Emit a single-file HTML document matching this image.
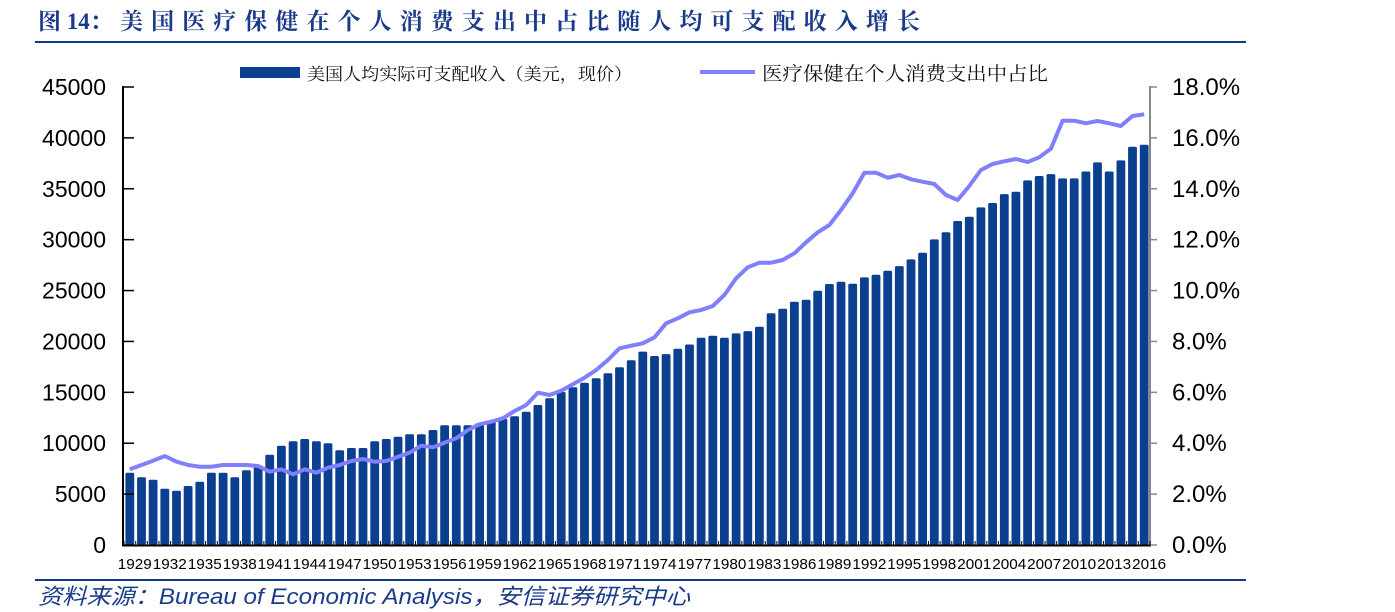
<!DOCTYPE html>
<html><head><meta charset="utf-8">
<style>
html,body{margin:0;padding:0;background:#fff;}
body{width:1395px;height:612px;overflow:hidden;position:relative;font-family:"Liberation Sans","Noto Sans CJK SC",sans-serif;}
svg{position:absolute;left:0;top:0;}
</style></head>
<body>
<svg id="s" width="1395" height="612" xmlns="http://www.w3.org/2000/svg">
<text x="38" y="29" font-family="'Liberation Serif','Noto Serif CJK SC',serif" font-size="23" font-weight="bold" fill="#1a3a8a"><tspan>图 14：</tspan><tspan x="120" textLength="800" lengthAdjust="spacing">美国医疗保健在个人消费支出中占比随人均可支配收入增长</tspan></text>
<line x1="35" y1="42" x2="1246" y2="42" stroke="#0d3a8c" stroke-width="2"/>
<line x1="35" y1="580" x2="1246" y2="580" stroke="#0d3a8c" stroke-width="2"/>
<text x="38" y="604" font-family="'Liberation Sans','Noto Sans CJK SC',sans-serif" font-size="22" font-style="italic" fill="#1a3a8a" textLength="652" lengthAdjust="spacingAndGlyphs">资料来源：Bureau of Economic Analysis，安信证券研究中心</text>
<rect x="240" y="67" width="60" height="11" fill="#0b3f8f"/>
<text x="307" y="80" font-size="17" fill="#111" font-family="'Liberation Serif','Noto Serif CJK SC',serif" textLength="325" lengthAdjust="spacingAndGlyphs">美国人均实际可支配收入（美元，现价）</text>
<line x1="700" y1="72" x2="755" y2="72" stroke="#7f7fff" stroke-width="4"/>
<text x="762" y="80" font-size="19" fill="#111" font-family="'Liberation Serif','Noto Serif CJK SC',serif" textLength="286" lengthAdjust="spacingAndGlyphs">医疗保健在个人消费支出中占比</text>
<g id="g"></g>
</svg>
<script>
var g=document.getElementById('g'),h='';
var z1=[428,442,449,476,482,468,455,428,428,442,421,410,374,347,334,327,334,340,361,354,354,334,327,320,313,313,300,286,286,286,280,273,266,259,245,225,205,186,172,158,145,130,112,91];
var vals=[19000,18570,18760,19290,19700,20360,20560,20360,20790,21020,21450,22760,23210,23900,24100,24980,25640,25870,25670,26290,26550,26950,27400,28060,28720,30030,30720,31830,32250,33170,33600,34480,34700,35820,36250,36440,36020,36020,36700,37590,36700,37790,39120,39320];
var by=z1.map(function(z){return 330+z/3;});
vals.forEach(function(v){by.push(545-v*0.010178);});
var step=1026/88;
function cx(i){return 124+step*(i+0.5);}
for(var i=0;i<88;i++){var x=cx(i)-4.4,y=by[i];h+='<rect x="'+x.toFixed(1)+'" y="'+y.toFixed(1)+'" width="8.8" height="'+(545-y).toFixed(1)+'" rx="1.5" fill="#0b3f8f"/>';}
var l1=[418,405,392,378,395,405,410,410,405,405,405,408,425,418,433,418,428,413,405,393,387,395,393,380,368,347,352,338,325,300,283,275,265,243,225,188,195,182,163,143,120,90];
var ly=l1.map(function(z){return 330+z/3;});
var l2=[805,797,790,772,730,715,697,690,678,645,595,562,548,548,540,520,487,457,435,390,340,278,278,293,285,298,305,312,345,360,318,270,252,244,237,246,232,206,122,122,130,123,130,138,108,103];
l2.forEach(function(z){ly.push(80+z/3);});
var pts=[];for(var i=0;i<88;i++)pts.push(cx(i).toFixed(1)+','+ly[i].toFixed(1));
h+='<polyline points="'+pts.join(' ')+'" fill="none" stroke="#7f7fff" stroke-width="4" stroke-linejoin="round"/>';
h+='<line x1="123" y1="86" x2="123" y2="546" stroke="#000" stroke-width="2"/>';
h+='<line x1="1150" y1="86" x2="1150" y2="546" stroke="#888" stroke-width="2"/>';
h+='<line x1="122" y1="545.5" x2="1151" y2="545.5" stroke="#000" stroke-width="2"/>';
for(var k=0;k<=9;k++){var y=545-k*458/9;
h+='<line x1="123" y1="'+y+'" x2="134" y2="'+y+'" stroke="#000" stroke-width="1.5"/>';
h+='<text x="106" y="'+(y+8)+'" font-size="23" text-anchor="end" fill="#000">'+(k*5000)+'</text>';
h+='<line x1="1150" y1="'+y+'" x2="1157" y2="'+y+'" stroke="#888" stroke-width="1.5"/>';
h+='<text x="1172" y="'+(y+8)+'" font-size="24" fill="#000">'+(k*2).toFixed(1)+'%</text>';}
for(var i=0;i<=88;i++){var x=124+step*i;h+='<line x1="'+x.toFixed(1)+'" y1="541" x2="'+x.toFixed(1)+'" y2="545" stroke="#000" stroke-width="1"/>';}
for(var i=0;i<88;i+=3){h+='<text x="'+(cx(i)-12).toFixed(1)+'" y="569" font-size="15" fill="#000" textLength="34" lengthAdjust="spacingAndGlyphs">'+(1929+i)+'</text>';}
g.innerHTML=h;
</script>
</body></html>
